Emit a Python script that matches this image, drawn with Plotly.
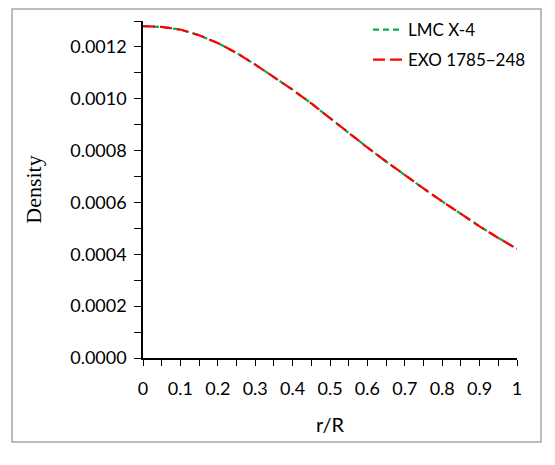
import plotly.graph_objects as go

r = [0.0, 0.05, 0.1, 0.15, 0.2, 0.25, 0.3, 0.35, 0.4, 0.45, 0.5, 0.55, 0.6, 0.65, 0.7, 0.75, 0.8, 0.85, 0.9, 0.95, 1.0]
lmc_x4 = [0.001280, 0.001277, 0.001267, 0.001245, 0.001215, 0.001177, 0.001132, 0.001085, 0.001035, 0.000982,
          0.000925, 0.000868, 0.000812, 0.000758, 0.000705, 0.000654, 0.000604, 0.000555, 0.000508, 0.000463, 0.000421]
exo_1785 = [0.001280, 0.001277, 0.001267, 0.001245, 0.001215, 0.001177, 0.001132, 0.001085, 0.001035, 0.000982,
            0.000925, 0.000868, 0.000812, 0.000758, 0.000705, 0.000654, 0.000604, 0.000555, 0.000508, 0.000463, 0.000421]
names = ["LMC X-4", "EXO 1785\u2212248"]
ytickvals = [0.0, 0.0002, 0.0004, 0.0006, 0.0008, 0.0010, 0.0012]
yticktext = ["0.0000", "0.0002", "0.0004", "0.0006", "0.0008", "0.0010", "0.0012"]
xtickvals = [0, 0.1, 0.2, 0.3, 0.4, 0.5, 0.6, 0.7, 0.8, 0.9, 1]
xticktext = ["0", "0.1", "0.2", "0.3", "0.4", "0.5", "0.6", "0.7", "0.8", "0.9", "1"]

L, R, T, B = 143, 38, 21, 107
W, H = 555, 465
pw, ph = W - L - R, H - T - B

def px(x):
    return (x - L) / pw

def py(y):
    return (H - B - y) / ph

fig = go.Figure()
fig.add_trace(go.Scatter(x=r, y=lmc_x4, mode="lines", name=names[0], legendgroup="a",
                         line=dict(color="#00b050", width=2.2, dash="6px,4px")))
fig.add_trace(go.Scatter(x=r, y=exo_1785, mode="lines", name=names[1], legendgroup="b",
                         line=dict(color="#ff0000", width=2.2, dash="12px,5px")))

fig.add_shape(type="rect", xref="paper", yref="paper",
              x0=px(12), x1=px(541), y0=py(442), y1=py(9),
              line=dict(color="#a6a6a6", width=1.5), layer="below")

fig.update_layout(
    width=W, height=H,
    margin=dict(l=L, r=R, t=T, b=B, autoexpand=False),
    paper_bgcolor="white", plot_bgcolor="white",
    font=dict(family="Lato, Open Sans, sans-serif", size=18, color="black"),
    showlegend=True,
    legend=dict(x=px(368), y=py(12), xanchor="left", yanchor="top",
                bgcolor="rgba(0,0,0,0)", font=dict(size=17),
                traceorder="grouped", tracegroupgap=5, itemwidth=30),
    xaxis=dict(range=[0, 1], tickvals=xtickvals, ticktext=xticktext,
               showgrid=False, zeroline=False, showline=True, linecolor="black", linewidth=1.5,
               ticks="outside", ticklen=6, tickwidth=1.2, tickcolor="black",
               minor=dict(dtick=0.05, ticks="outside", ticklen=6, tickwidth=1.2, tickcolor="black", showgrid=False),
               ticklabelstandoff=8,
               title=dict(text="r/R", font=dict(size=20), standoff=20)),
    yaxis=dict(range=[0, 0.0013], tickvals=ytickvals, ticktext=yticktext,
               showgrid=False, zeroline=False, showline=True, linecolor="black", linewidth=1.5,
               ticks="outside", ticklen=7, tickwidth=1.2, tickcolor="black",
               minor=dict(tickvals=[0.0001, 0.0003, 0.0005, 0.0007, 0.0009, 0.0011, 0.0013],
                          ticks="outside", ticklen=7, tickwidth=1.2, tickcolor="black", showgrid=False),
               ticklabelstandoff=4,
               title=dict(text="Density", font=dict(family="Liberation Serif, Times New Roman, serif", size=22),
                          standoff=22)),
)

fig.write_html("out.html")
